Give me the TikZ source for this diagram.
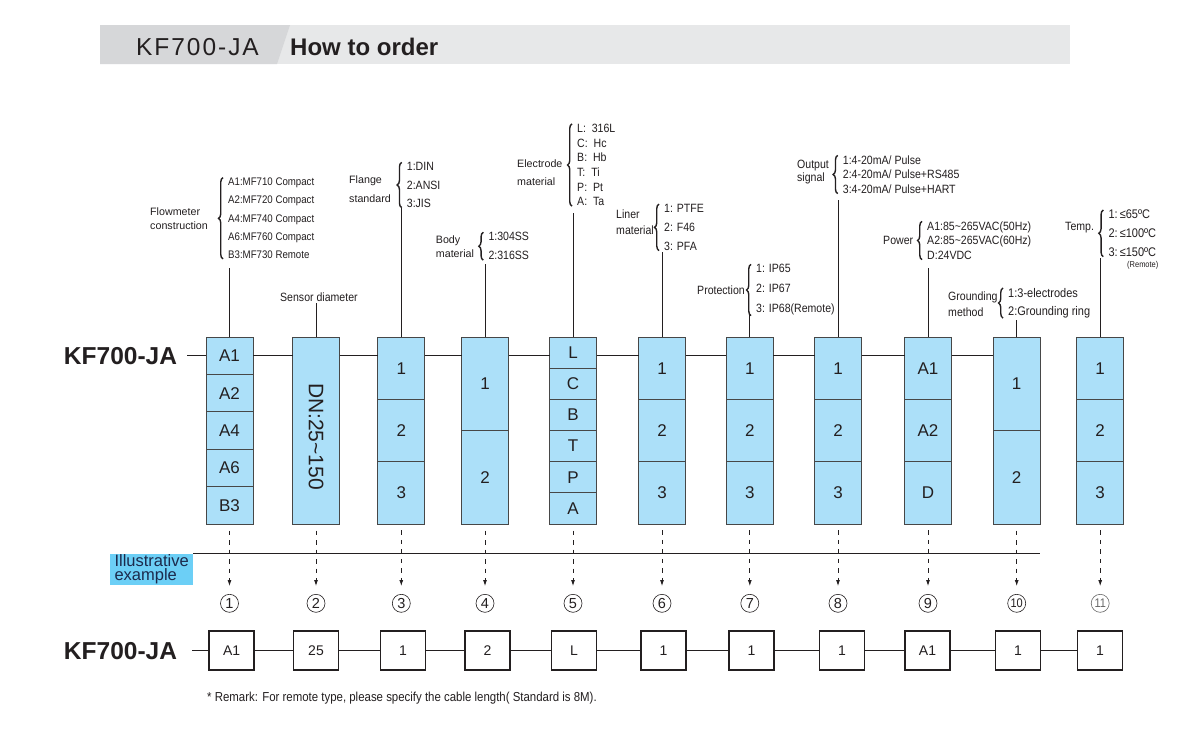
\documentclass[tikz,border=0pt]{standalone}
\usepackage{fontspec}
\setmainfont{Liberation Sans}
\newfontfamily\condfont[FakeStretch=0.88]{Liberation Sans}
\newfontfamily\hdrfont[LetterSpace=8]{Liberation Sans}
\usepackage{graphicx}
\usepackage{xcolor}
\usepackage{tikz}
\usetikzlibrary{positioning}
\usetikzlibrary{arrows.meta}
\usetikzlibrary{decorations.pathreplacing}
\definecolor{cellblue}{RGB}{172,224,249}
\definecolor{hdrdark}{RGB}{214,215,217}
\definecolor{hdrlight}{RGB}{231,232,233}
\definecolor{tagblue}{RGB}{108,207,246}
\definecolor{tagtext}{RGB}{28,42,76}
\definecolor{inkgray}{RGB}{35,31,32}
\tikzset{>=latex}
\tikzset{order-line/.style={line width=0.9pt, draw=inkgray}}
\tikzset{note-line/.style={line width=0.7pt, draw=inkgray}}
\tikzset{pick-arrow/.style={line width=0.8pt, draw=inkgray, dash pattern=on 4.5pt off 5pt,
        -{Latex[length=6pt,width=4pt]}, shorten <=6.5pt, shorten >=8pt}}
\tikzset{opt-brace/.style={decorate, decoration={brace, amplitude=4.5pt}, line width=1.4pt, draw=inkgray}}
\tikzset{code-cell/.style={draw=black!72, fill=cellblue, line width=0.9pt, inner sep=0, outer sep=0,
        minimum width=47pt, text=inkgray, font=\fontsize{17}{19}\selectfont}}
\tikzset{pick-box/.style={draw=inkgray, fill=white, line width=1.5pt, inner sep=0,
        minimum width=45pt, minimum height=39pt, text=inkgray, font=\fontsize{14}{16}\selectfont}}
\tikzset{pick-num/.style={circle, draw=inkgray, line width=0.6pt, inner sep=0, minimum size=18pt,
        text=inkgray, font=\fontsize{14.5}{15}\selectfont}}
\tikzset{model-label/.style={anchor=east, inner sep=0, text=inkgray, font=\bfseries\fontsize{24.5}{26}\selectfont}}
\tikzset{note-text/.style={anchor=west, inner sep=0, align=left, text=inkgray}}

\begin{document}
\begin{tikzpicture}[x=1pt, y=-1pt]
    \useasboundingbox (0,0) rectangle (1180,755);
    \fill[white] (0,0) rectangle (1180,755);

    % header band
    \fill[hdrlight] (100,25) rectangle (1070,64);
    \fill[hdrdark] (100,25) -- (290,25) -- (277,64) -- (100,64) -- cycle;
    \node[anchor=base west, inner sep=0, text=inkgray, font=\hdrfont\fontsize{24.5}{26}\selectfont] (hdrModel) at (136,55) {KF700-JA};
    \node[anchor=base west, inner sep=0, text=inkgray, font=\bfseries\fontsize{24}{26}\selectfont] (hdrTitle) at (290,55) {How to order};

    % code columns
    \node[code-cell, minimum height=37.4pt, anchor=north] (c1a) at (229.5,337) {A1};
    \node[code-cell, minimum height=37.4pt, below=0pt of c1a] (c1b) {A2};
    \node[code-cell, minimum height=37.4pt, below=0pt of c1b] (c1c) {A4};
    \node[code-cell, minimum height=37.4pt, below=0pt of c1c] (c1d) {A6};
    \node[code-cell, minimum height=37.4pt, below=0pt of c1d] (c1e) {B3};

    \node[code-cell, minimum height=187pt, anchor=north] (c2a) at (316,337) {\rotatebox{-90}{\fontsize{21}{21}\selectfont\hspace{12pt}DN:25\textasciitilde150}};

    \node[code-cell, minimum height=62.33pt, anchor=north] (c3a) at (401.3,337) {1};
    \node[code-cell, minimum height=62.33pt, below=0pt of c3a] (c3b) {2};
    \node[code-cell, minimum height=62.33pt, below=0pt of c3b] (c3c) {3};

    \node[code-cell, minimum height=93.5pt, anchor=north] (c4a) at (485,337) {1};
    \node[code-cell, minimum height=93.5pt, below=0pt of c4a] (c4b) {2};

    \node[code-cell, minimum height=31.17pt, anchor=north] (c5a) at (573,337) {L};
    \node[code-cell, minimum height=31.17pt, below=0pt of c5a] (c5b) {C};
    \node[code-cell, minimum height=31.17pt, below=0pt of c5b] (c5c) {B};
    \node[code-cell, minimum height=31.17pt, below=0pt of c5c] (c5d) {T};
    \node[code-cell, minimum height=31.17pt, below=0pt of c5d] (c5e) {P};
    \node[code-cell, minimum height=31.17pt, below=0pt of c5e] (c5f) {A};

    \node[code-cell, minimum height=62.33pt, anchor=north] (c6a) at (662,337) {1};
    \node[code-cell, minimum height=62.33pt, below=0pt of c6a] (c6b) {2};
    \node[code-cell, minimum height=62.33pt, below=0pt of c6b] (c6c) {3};

    \node[code-cell, minimum height=62.33pt, anchor=north] (c7a) at (749.8,337) {1};
    \node[code-cell, minimum height=62.33pt, below=0pt of c7a] (c7b) {2};
    \node[code-cell, minimum height=62.33pt, below=0pt of c7b] (c7c) {3};

    \node[code-cell, minimum height=62.33pt, anchor=north] (c8a) at (838,337) {1};
    \node[code-cell, minimum height=62.33pt, below=0pt of c8a] (c8b) {2};
    \node[code-cell, minimum height=62.33pt, below=0pt of c8b] (c8c) {3};

    \node[code-cell, minimum height=62.33pt, anchor=north] (c9a) at (928,337) {A1};
    \node[code-cell, minimum height=62.33pt, below=0pt of c9a] (c9b) {A2};
    \node[code-cell, minimum height=62.33pt, below=0pt of c9b] (c9c) {D};

    \node[code-cell, minimum height=93.5pt, anchor=north] (c10a) at (1016.7,337) {1};
    \node[code-cell, minimum height=93.5pt, below=0pt of c10a] (c10b) {2};

    \node[code-cell, minimum height=62.33pt, anchor=north] (c11a) at (1100.2,337) {1};
    \node[code-cell, minimum height=62.33pt, below=0pt of c11a] (c11b) {2};
    \node[code-cell, minimum height=62.33pt, below=0pt of c11b] (c11c) {3};

    % model line on top
    \node[model-label, outer xsep=10pt] (kfTop) at (187,355.7) {KF700-JA};
    \draw[order-line] (kfTop.east) -- (c1a.west);
    \draw[order-line] (c1a.east) -- (c1a.east -| c2a.west);
    \draw[order-line] (c1a.east -| c2a.east) -- (c1a.east -| c3a.west);
    \draw[order-line] (c1a.east -| c3a.east) -- (c1a.east -| c4a.west);
    \draw[order-line] (c1a.east -| c4a.east) -- (c1a.east -| c5a.west);
    \draw[order-line] (c1a.east -| c5a.east) -- (c1a.east -| c6a.west);
    \draw[order-line] (c1a.east -| c6a.east) -- (c1a.east -| c7a.west);
    \draw[order-line] (c1a.east -| c7a.east) -- (c1a.east -| c8a.west);
    \draw[order-line] (c1a.east -| c8a.east) -- (c1a.east -| c9a.west);
    \draw[order-line] (c1a.east -| c9a.east) -- (c1a.east -| c10a.west);

    % notes above the columns
    \node[note-text, font=\fontsize{10.7}{14.3}\selectfont] (fmDesc) at (150,219) {Flowmeter\\construction};
    \node[note-text, font=\condfont\fontsize{11}{18.3}\selectfont] (fmOpt) at (228,218.3) {A1:MF710 Compact\\A2:MF720 Compact\\A4:MF740 Compact\\A6:MF760 Compact\\B3:MF730 Remote};
    \draw[opt-brace] ([xshift=-5pt]fmOpt.south west) -- ([xshift=-5pt]fmOpt.north west);
    \coordinate (fmTop) at (229.5,267.5);
    \draw[note-line] (c1a.north) -- (fmTop);

    \node[note-text, font=\condfont\fontsize{12}{14}\selectfont] (sdDesc) at (280,297.7) {Sensor diameter};
    \coordinate (sdTop) at (316,302.5);
    \draw[note-line] (c2a.north) -- (sdTop);

    \node[note-text, font=\fontsize{10.7}{18.3}\selectfont] (flDesc) at (349,189.2) {Flange\\standard};
    \node[note-text, font=\condfont\fontsize{12}{18.3}\selectfont] (flOpt) at (406.7,185) {1:DIN\\2:ANSI\\3:JIS};
    \draw[opt-brace] ([xshift=-5pt]flOpt.south west) -- ([xshift=-5pt]flOpt.north west);
    \coordinate (flTop) at (401.3,208.3);
    \draw[note-line] (c3a.north) -- (flTop);

    \node[note-text, font=\fontsize{10.7}{14.7}\selectfont] (bmDesc) at (435.7,246.7) {Body\\material};
    \node[note-text, font=\condfont\fontsize{12}{19}\selectfont] (bmOpt) at (488.3,246.2) {1:304SS\\2:316SS};
    \draw[opt-brace] ([xshift=-5pt]bmOpt.south west) -- ([xshift=-5pt]bmOpt.north west);
    \coordinate (bmTop) at (485,264);
    \draw[note-line] (c4a.north) -- (bmTop);

    \node[note-text, font=\fontsize{10.7}{18.4}\selectfont] (elDesc) at (517,172.5) {Electrode\\material};
    \node[note-text, font=\condfont\fontsize{12}{14.7}\selectfont] (elOpt) at (577,165) {L:\ \ 316L\\C:\ \ Hc\\B:\ \ Hb\\T:\ \ Ti\\P:\ \ Pt\\A:\ \ Ta};
    \draw[opt-brace] ([xshift=-5pt]elOpt.south west) -- ([xshift=-5pt]elOpt.north west);
    \coordinate (elTop) at (573,212.7);
    \draw[note-line] (c5a.north) -- (elTop);

    \node[note-text, font=\condfont\fontsize{12}{16}\selectfont] (lnDesc) at (616,222) {Liner\\material};
    \node[note-text, font=\condfont\fontsize{12}{18.85}\selectfont] (lnOpt) at (664,227.3) {1: PTFE\\2: F46\\3: PFA};
    \draw[opt-brace] ([xshift=-5pt]lnOpt.south west) -- ([xshift=-5pt]lnOpt.north west);
    \coordinate (lnTop) at (662,252);
    \draw[note-line] (c6a.north) -- (lnTop);

    \node[note-text, font=\condfont\fontsize{12}{14}\selectfont] (ptDesc) at (697,290.7) {Protection};
    \node[note-text, font=\condfont\fontsize{12}{20}\selectfont] (ptOpt) at (756,290) {1: IP65\\2: IP67\\3: IP68(Remote)};
    \draw[opt-brace] ([xshift=-5pt]ptOpt.south west) -- ([xshift=-5pt]ptOpt.north west);
    \coordinate (ptTop) at (749.8,314);
    \draw[note-line] (c7a.north) -- (ptTop);

    \node[note-text, font=\condfont\fontsize{12}{13.5}\selectfont] (osDesc) at (797,172) {Output\\signal};
    \node[note-text, font=\condfont\fontsize{12}{14.5}\selectfont] (osOpt) at (842.7,174.5) {1:4-20mA/ Pulse\\2:4-20mA/ Pulse+RS485\\3:4-20mA/ Pulse+HART};
    \draw[opt-brace] ([xshift=-5pt]osOpt.south west) -- ([xshift=-5pt]osOpt.north west);
    \coordinate (osTop) at (838,200);
    \draw[note-line] (c8a.north) -- (osTop);

    \node[note-text, font=\condfont\fontsize{12}{14}\selectfont] (pwDesc) at (883,240.5) {Power};
    \node[note-text, font=\condfont\fontsize{12}{14.5}\selectfont] (pwOpt) at (927,240.5) {A1:85\textasciitilde265VAC(50Hz)\\A2:85\textasciitilde265VAC(60Hz)\\D:24VDC};
    \draw[opt-brace] ([xshift=-5pt]pwOpt.south west) -- ([xshift=-5pt]pwOpt.north west);
    \coordinate (pwTop) at (928,268);
    \draw[note-line] (c9a.north) -- (pwTop);

    \node[note-text, font=\condfont\fontsize{12}{16.5}\selectfont] (gmDesc) at (948,304) {Grounding\\method};
    \node[note-text, font=\condfont\fontsize{12.5}{18}\selectfont] (gmOpt) at (1008,303) {1:3-electrodes\\2:Grounding ring};
    \draw[opt-brace] ([xshift=-5pt]gmOpt.south west) -- ([xshift=-5pt]gmOpt.north west);
    \coordinate (gmTop) at (1016.7,320);
    \draw[note-line] (c10a.north) -- (gmTop);

    \node[note-text, font=\condfont\fontsize{12}{14}\selectfont] (tpDesc) at (1065,227.7) {Temp.};
    \node[note-text, font=\condfont\fontsize{12.5}{18.7}\selectfont] (tpOpt) at (1108.3,233.3) {1:\,≤65ºC\\2:\,≤100ºC\\3:\,≤150ºC};
    \draw[opt-brace] ([xshift=-5pt]tpOpt.south west) -- ([xshift=-5pt]tpOpt.north west);
    \node[note-text, font=\condfont\fontsize{8.5}{10}\selectfont] (tpRemote) at (1127,265.5) {(Remote)};
    \coordinate (tpTop) at (1100.2,258.3);
    \draw[note-line] (c11a.north) -- (tpTop);

    % illustrative example
    \node[anchor=north west, fill=tagblue, text=tagtext, align=left, inner sep=0, minimum width=83pt,
        minimum height=31.7pt, font=\fontsize{16.5}{14}\selectfont] (tag) at (110,553.3) {Illustrative\\example};
    \draw[order-line, line width=0.8pt] (tag.north east) -- (tag.north east -| c10b.east);

    \node[pick-num] (p1) at (229.5,603.3) {1};
    \node[pick-num] (p2) at (316,603.3) {2};
    \node[pick-num] (p3) at (401.3,603.3) {3};
    \node[pick-num] (p4) at (485,603.3) {4};
    \node[pick-num] (p5) at (573,603.3) {5};
    \node[pick-num] (p6) at (662,603.3) {6};
    \node[pick-num] (p7) at (749.8,603.3) {7};
    \node[pick-num] (p8) at (838,603.3) {8};
    \node[pick-num] (p9) at (928,603.3) {9};
    \node[pick-num, font=\condfont\fontsize{12.5}{13}\selectfont] (p10) at (1016.7,603.3) {10};
    \node[pick-num, draw=black!60, text=black!60, font=\condfont\fontsize{12.5}{13}\selectfont] (p11) at (1100.2,603.3) {11};

    \draw[pick-arrow] (c1e.south) -- (p1.north);
    \draw[pick-arrow] (c2a.south) -- (p2.north);
    \draw[pick-arrow] (c3c.south) -- (p3.north);
    \draw[pick-arrow] (c4b.south) -- (p4.north);
    \draw[pick-arrow] (c5f.south) -- (p5.north);
    \draw[pick-arrow] (c6c.south) -- (p6.north);
    \draw[pick-arrow] (c7c.south) -- (p7.north);
    \draw[pick-arrow] (c8c.south) -- (p8.north);
    \draw[pick-arrow] (c9c.south) -- (p9.north);
    \draw[pick-arrow] (c10b.south) -- (p10.north);
    \draw[pick-arrow] (c11c.south) -- (p11.north);

    % example code
    \node[model-label, outer xsep=15pt] (kfBot) at (192,650.7) {KF700-JA};
    \node[pick-box] (b1) at (231.7,650.7) {A1};
    \node[pick-box] (b2) at (316,650.7) {25};
    \node[pick-box] (b3) at (403,650.7) {1};
    \node[pick-box] (b4) at (487.5,650.7) {2};
    \node[pick-box] (b5) at (574,650.7) {L};
    \node[pick-box] (b6) at (663.5,650.7) {1};
    \node[pick-box] (b7) at (751.5,650.7) {1};
    \node[pick-box] (b8) at (842,650.7) {1};
    \node[pick-box] (b9) at (927.5,650.7) {A1};
    \node[pick-box] (b10) at (1018,650.7) {1};
    \node[pick-box] (b11) at (1100,650.7) {1};

    \draw[order-line] (kfBot.east) -- (b1.west);
    \draw[order-line] (b1.east) -- (b2.west);
    \draw[order-line] (b2.east) -- (b3.west);
    \draw[order-line] (b3.east) -- (b4.west);
    \draw[order-line] (b4.east) -- (b5.west);
    \draw[order-line] (b5.east) -- (b6.west);
    \draw[order-line] (b6.east) -- (b7.west);
    \draw[order-line] (b7.east) -- (b8.west);
    \draw[order-line] (b8.east) -- (b9.west);
    \draw[order-line] (b9.east) -- (b10.west);
    \draw[order-line] (b10.east) -- (b11.west);

    \node[note-text, font=\condfont\fontsize{13}{15}\selectfont] (remark) at (207,698) {* Remark: For remote type, please specify the cable length( Standard is 8M).};

\end{tikzpicture}
\end{document}
